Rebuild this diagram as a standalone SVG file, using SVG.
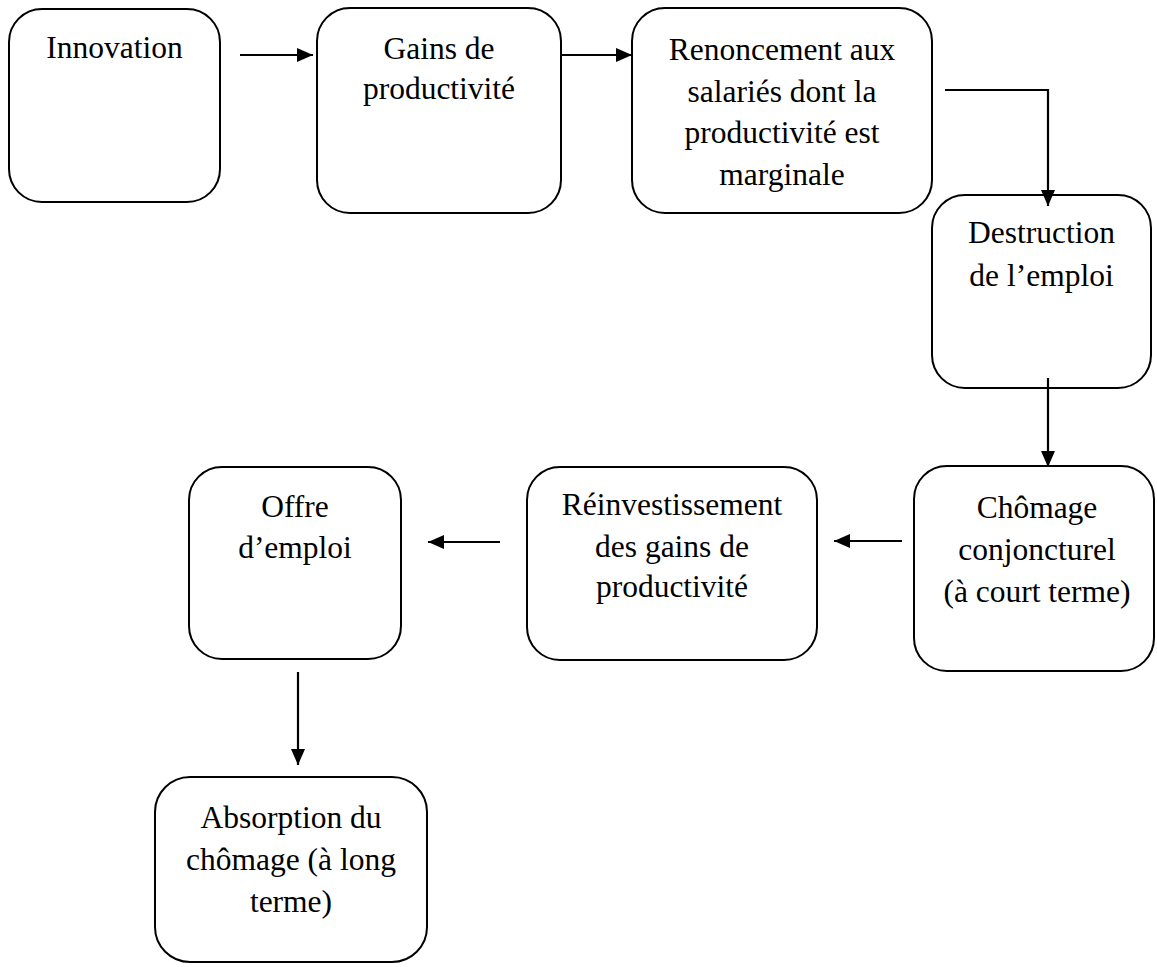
<svg xmlns="http://www.w3.org/2000/svg" width="1157" height="967" viewBox="0 0 1157 967">
<style>
.box{fill:#fff;stroke:#000;stroke-width:2}
.lbl{font-family:"Liberation Serif","Times New Roman",serif;font-size:31.5px;fill:#000;text-anchor:middle}
.con{fill:none;stroke:#000;stroke-width:2.2}
</style>
<defs>
<marker id="ah" markerWidth="16" markerHeight="14" refX="16" refY="7" orient="auto" markerUnits="userSpaceOnUse">
<path d="M0,0 L16,7 L0,14 Z" fill="#000"/>
</marker>
</defs>
<rect width="1157" height="967" fill="#fff"/>
<g id="n1"><rect class="box" x="9" y="9" width="211" height="193" rx="33"/><text class="lbl" x="114.5" y="58">Innovation</text></g>
<g id="n2"><rect class="box" x="317" y="8" width="244" height="205" rx="33"/><text class="lbl" x="439" y="59">Gains de</text><text class="lbl" x="439" y="99">productivité</text></g>
<g id="n3"><rect class="box" x="632" y="8" width="300" height="205" rx="33"/><text class="lbl" x="782" y="60">Renoncement aux</text><text class="lbl" x="782" y="102">salariés dont la</text><text class="lbl" x="782" y="143">productivité est</text><text class="lbl" x="782" y="185">marginale</text></g>
<g id="n4"><rect class="box" x="932" y="195" width="219" height="193" rx="33"/><text class="lbl" x="1041.5" y="243">Destruction</text><text class="lbl" x="1041.5" y="286">de l’emploi</text></g>
<g id="n5"><rect class="box" x="914" y="466" width="240" height="205" rx="33"/><text class="lbl" x="1037" y="518">Chômage</text><text class="lbl" x="1037" y="560">conjoncturel</text><text class="lbl" x="1037" y="602">(à court terme)</text></g>
<g id="n6"><rect class="box" x="527" y="467" width="290" height="193" rx="33"/><text class="lbl" x="672" y="515">Réinvestissement</text><text class="lbl" x="672" y="557">des gains de</text><text class="lbl" x="672" y="597">productivité</text></g>
<g id="n7"><rect class="box" x="189" y="467" width="212" height="192" rx="33"/><text class="lbl" x="295" y="517">Offre</text><text class="lbl" x="295" y="558">d’emploi</text></g>
<g id="n8"><rect class="box" x="155" y="777" width="272" height="185" rx="35"/><text class="lbl" x="291" y="828">Absorption du</text><text class="lbl" x="291" y="870">chômage (à long</text><text class="lbl" x="291" y="912">terme)</text></g>
<g id="connectors">
<line class="con" x1="240" y1="55" x2="313" y2="55" marker-end="url(#ah)"/>
<line class="con" x1="561" y1="55" x2="632" y2="55" marker-end="url(#ah)"/>
<polyline class="con" points="945,90 1048,90 1048,206" marker-end="url(#ah)"/>
<line class="con" x1="1048" y1="378" x2="1048" y2="467" marker-end="url(#ah)"/>
<line class="con" x1="902" y1="541" x2="834" y2="541" marker-end="url(#ah)"/>
<line class="con" x1="500" y1="542" x2="428" y2="542" marker-end="url(#ah)"/>
<line class="con" x1="298" y1="672" x2="298" y2="765" marker-end="url(#ah)"/>
</g>
</svg>
